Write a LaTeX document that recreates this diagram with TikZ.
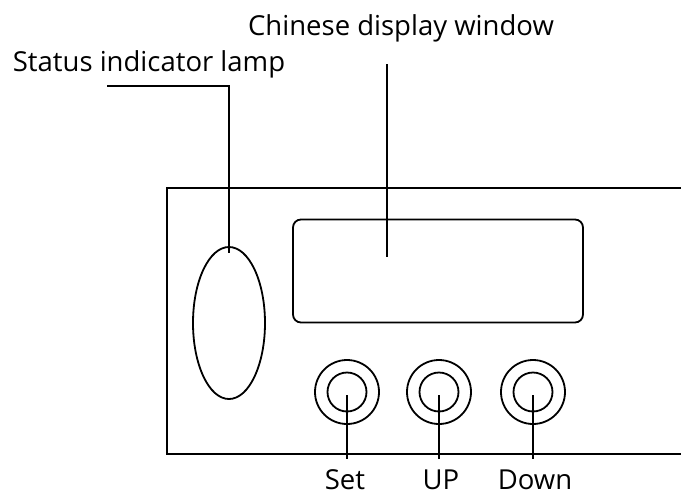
\documentclass[tikz,border=0pt]{standalone}
\usepackage{fontspec}
\setmainfont{Open Sans}
\usepackage{tikz}
\usetikzlibrary{positioning,calc,shapes.geometric}

\begin{document}
\begin{tikzpicture}[
  x=1pt, y=-1pt,
  font=\fontsize{27.5}{32}\selectfont,
  part/.style={draw=black, line width=1.8pt},
  lampshape/.style={
    part, ellipse, inner sep=0pt,
    minimum width=72pt, minimum height=152pt,
  },
  window/.style={
    part, rectangle, rounded corners=8pt, inner sep=0pt,
    minimum width=290pt, minimum height=103pt,
  },
  btnouter/.style={part, circle, inner sep=0pt, minimum size=64pt},
  btninner/.style={part, circle, inner sep=0pt, minimum size=39pt},
  lbl/.style={inner sep=0pt, text=black},
  btnlbl/.style={anchor=base, inner sep=10pt, text=black},
  leader/.style={draw=black, line width=1.8pt},
]

% fixed page size (reference is 681 x 496)
\useasboundingbox (0,0) rectangle (681,496);

% front panel, open to the right
\draw[part] (681,188) -- (167,188) -- (167,454) -- (681,454);

% lamp, display window and the three keys
\node[lampshape] (lamp) at (229,323) {};
\node[window] (display) at (438,271) {};

\node[btnouter] (set)  at (347,392) {};
\node[btninner] (setin)  at (set) {};
\node[btnouter] (up)   at (439,392) {};
\node[btninner] (upin)   at (up) {};
\node[btnouter] (down) at (533,392) {};
\node[btninner] (downin) at (down) {};

% captions
\node[lbl, anchor=base] (lamplbl) at (149,71) {Status indicator lamp};
\node[lbl, anchor=base] (displbl) at (401,35) {Chinese display window};
\node[btnlbl] (setlbl)  at (345,489) {Set};
\node[btnlbl] (uplbl)   at (441,489) {UP};
\node[btnlbl] (downlbl) at (535,489) {Down};

% leader end points
\coordinate (lampstart) at (107,86);
\coordinate (lamptip)   at ($(lamp.north)+(0,7)$);
\coordinate (disptop)   at (387,64);
\coordinate (disptip)   at (387,257);

% leaders
\draw[leader] (lampstart) -| (lamptip);
\draw[leader] (disptop) -- (disptip);
\draw[leader] ($(set)+(0,3)$)  -- (set |- setlbl.north);
\draw[leader] ($(up)+(0,3)$)   -- (up |- uplbl.north);
\draw[leader] ($(down)+(0,3)$) -- (down |- downlbl.north);

\end{tikzpicture}
\end{document}
